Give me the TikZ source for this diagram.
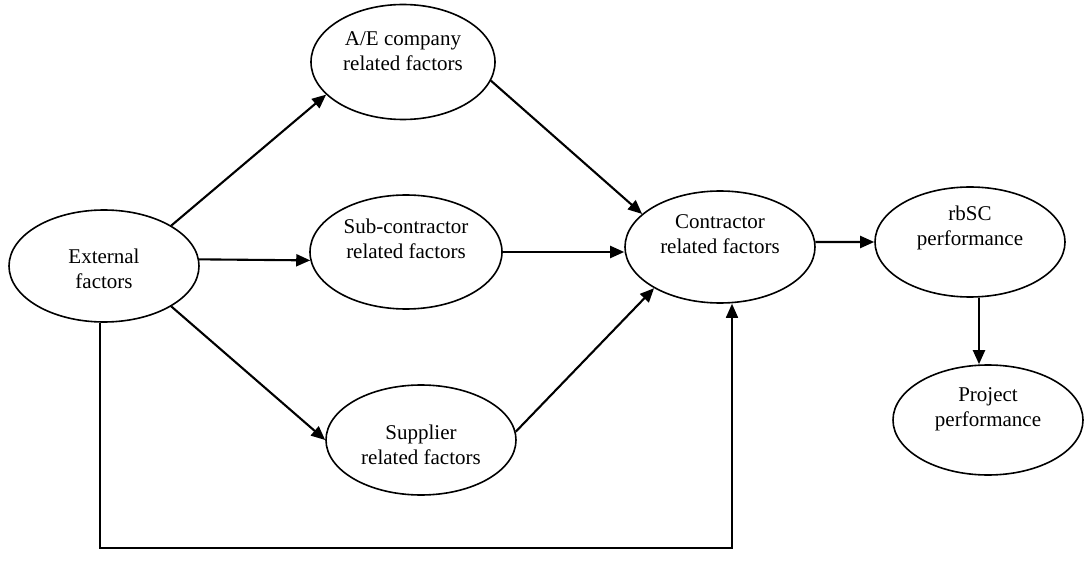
\documentclass[tikz,border=0pt]{standalone}
\usepackage{fontspec}
\setmainfont{Liberation Serif}
\usetikzlibrary{shapes.geometric,arrows.meta}
\begin{document}
\begin{tikzpicture}[x=1pt,y=-1pt,
  factor/.style={ellipse,draw,line width=1.6pt,inner sep=0pt,
    minimum width=190pt,minimum height=112pt},
  caption/.style={align=center,font=\fontsize{21}{25}\selectfont,inner sep=0pt},
  link/.style={line width=2.1pt,-{Triangle[length=14pt,width=12pt]}}]
\useasboundingbox (0,0) rectangle (1087,569);

% factor groups
\node[factor] (ext) at (104,266) {};
\node[factor,minimum width=184pt,minimum height=115pt] (ae) at (403,62) {};
\node[factor,minimum width=192pt,minimum height=114pt] (sub) at (406,252) {};
\node[factor,minimum height=110pt] (sup) at (421,440) {};
\node[factor] (con) at (720,247) {};
\node[factor,minimum height=110pt] (rb) at (970,242) {};
\node[factor,minimum height=110pt] (pr) at (988,420) {};

% captions
\node[caption] (ext-t) at (104,269) {External\\factors};
\node[caption] (ae-t) at (403,51) {A/E company\\related factors};
\node[caption] (sub-t) at (406,239) {Sub-contractor\\related factors};
\node[caption] (sup-t) at (421,445) {Supplier\\related factors};
\node[caption] (con-t) at (720,234) {Contractor\\related factors};
\node[caption] (rb-t) at (970,228) {rbSC\\performance};
\node[caption] (pr-t) at (988,409) {Project\\performance};

% influence paths
\draw[link] (ext.31) -- (ae.203);
\draw[link] (ext.4) -- (sub.185);
\draw[link] (ext.-31) -- (sup.west);
\draw[link] (ae.-12) -- (con.157);
\draw[link] (sub.east) -- (con.west |- sub.east);
\draw[link] (sup.5) -- (con.212);
\draw[link] (con.3) -- (rb.west);
\coordinate (drop) at (979,0);
\draw[link] (rb.south -| drop) -- (pr.north -| drop);

% direct path from external factors to contractor
\coordinate (loopL) at (100,548);
\coordinate (loopR) at (732,548);
\draw[link,line width=1.7pt] (ext.south -| loopL) -- (loopL) -- (loopR) -- (con.south -| loopR);
\end{tikzpicture}
\end{document}
